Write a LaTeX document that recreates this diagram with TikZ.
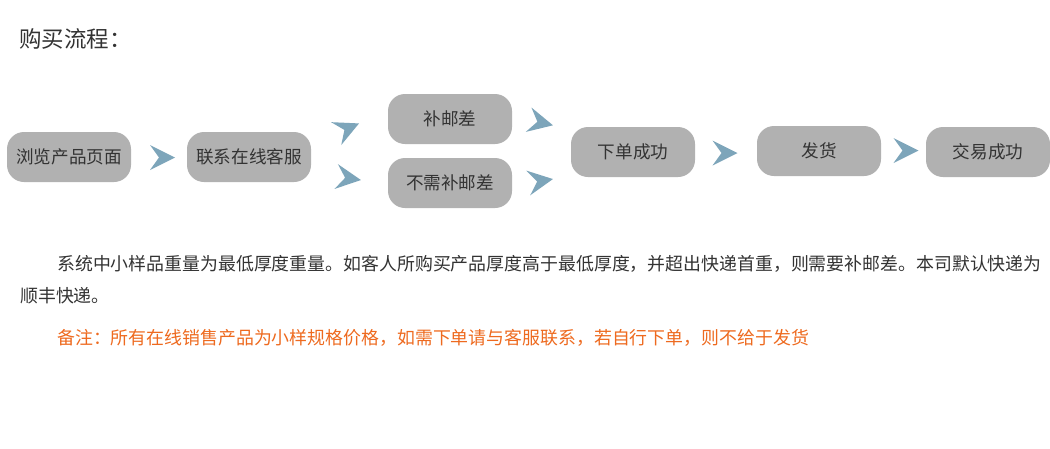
\documentclass[tikz,border=0pt]{standalone}
\usepackage{fontspec}
\setmainfont{Noto Sans CJK SC}
\begin{document}
\begin{tikzpicture}[x=1pt,y=-1pt,
  stepbox/.style={fill=boxgray, rounded corners=17pt, minimum width=124pt, minimum height=50pt, inner sep=0pt, text=textc, font=\fontsize{17.6}{19}\selectfont},
  chev/.style={fill=arrowc, draw=none},
  bodytext/.style={anchor=base west, inner sep=0pt, text=textc, font=\fontsize{17.9}{20}\selectfont}]
\definecolor{boxgray}{HTML}{B1B1B1}
\definecolor{textc}{HTML}{333333}
\definecolor{arrowc}{HTML}{7DA5BA}
\definecolor{notec}{HTML}{EE6A1F}
\useasboundingbox[fill=white] (0,0) rectangle (1050,448);
\newcommand\chevron[2]{\fill[chev, shift={(#1)}, rotate=#2] (12.5,0) -- (-12.5,12.5) -- (-3.5,0) -- (-12.5,-12.5) -- cycle;}

\node[anchor=base west, inner sep=0pt, text=textc, font=\fontsize{22.5}{25}\selectfont] (title) at (19,47) {购买流程：};

\node[stepbox] (b1) at (69,157) {浏览产品页面};
\node[stepbox] (b2) at (249,157) {联系在线客服};
\node[stepbox] (b3) at (450,119) {补邮差};
\node[stepbox] (b4) at (450,183) {不需补邮差};
\node[stepbox] (b5) at (633,152) {下单成功};
\node[stepbox] (b6) at (819,151) {发货};
\node[stepbox] (b7) at (988,152) {交易成功};

\coordinate (a1) at (162.5,157.5);
\coordinate (a2) at (347.6,128.5);
\coordinate (a3) at (348.6,178.3);
\coordinate (a4) at (540.8,122.5);
\coordinate (a5) at (540.6,181);
\coordinate (a6) at (725,153);
\coordinate (a7) at (906,150.5);
\chevron{a1}{0}
\chevron{a2}{24}
\chevron{a3}{-8}
\chevron{a4}{-13}
\chevron{a5}{9}
\chevron{a6}{0}
\chevron{a7}{0}

\node[bodytext] (p1) at (57,270) {系统中小样品重量为最低厚度重量。如客人所购买产品厚度高于最低厚度，并超出快递首重，则需要补邮差。本司默认快递为};
\node[bodytext] (p2) at (20,302) {顺丰快递。};
\node[bodytext, text=notec] (note) at (57,344) {备注：所有在线销售产品为小样规格价格，如需下单请与客服联系，若自行下单，则不给于发货};
\end{tikzpicture}
\end{document}
